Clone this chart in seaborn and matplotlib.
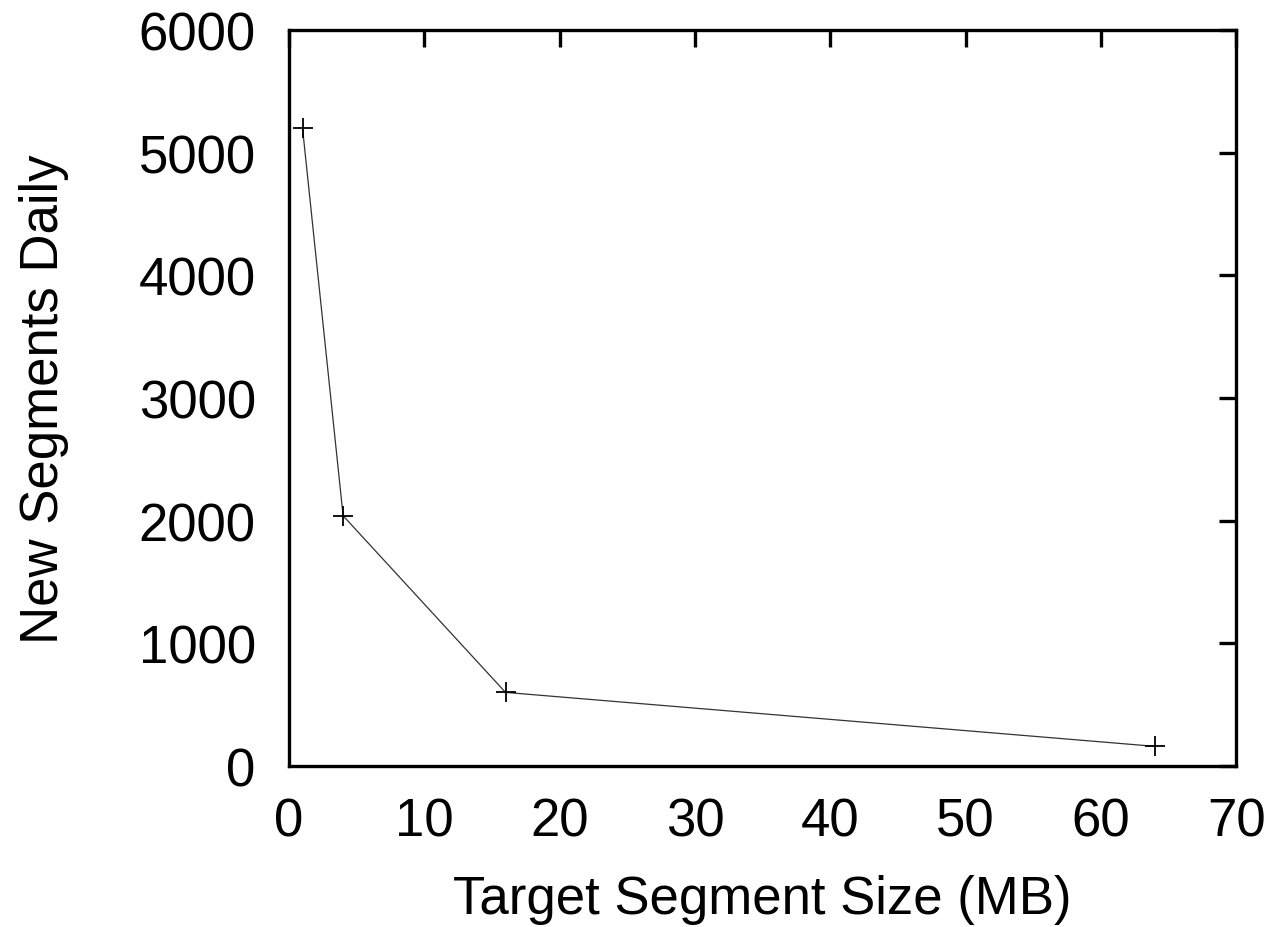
import matplotlib
matplotlib.use("Agg")
import matplotlib.pyplot as plt
import seaborn as sns
import pandas as pd

# data
segment_size_mb = [1, 4, 16, 64]
new_segments_daily = [5200, 2040, 600, 160]

df = pd.DataFrame({"size": segment_size_mb, "segments": new_segments_daily})

sns.set_theme(style="white")
plt.rcParams["font.family"] = ["Liberation Sans", "DejaVu Sans"]

fig = plt.figure(figsize=(12.77, 9.28), dpi=100)
ax = fig.add_axes([0.2263, 0.1735, 0.7418, 0.7931])

sns.lineplot(data=df, x="size", y="segments", ax=ax, color="#333333",
             linewidth=0.9, marker="+", markersize=15, markeredgewidth=1.3,
             markeredgecolor="black")

ax.set_xlim(0, 70)
ax.set_ylim(0, 6000)
ax.set_xticks(range(0, 71, 10))
ax.set_yticks(range(0, 6001, 1000))
ax.set_xlabel("Target Segment Size (MB)", fontsize=38, labelpad=20, color="black")
ax.set_ylabel("New Segments Daily", fontsize=38, labelpad=50, color="black")

for s in ax.spines.values():
    s.set_linewidth(2.4)
    s.set_color("black")
ax.tick_params(direction="in", length=12, width=2.4, labelsize=38,
               top=True, right=True, colors="black")
ax.tick_params(axis="y", pad=24)
ax.tick_params(axis="x", pad=22)

fig.savefig("out.png", dpi=100)
